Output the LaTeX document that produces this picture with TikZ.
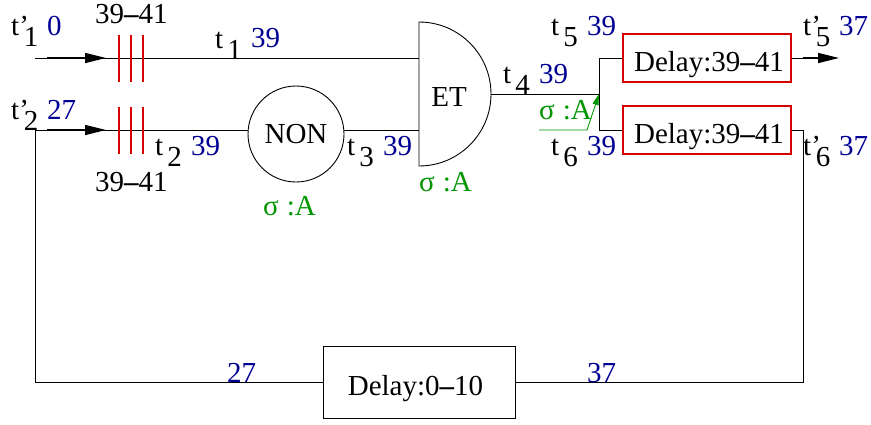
\documentclass[tikz,border=0pt]{standalone}
\usepackage{fontspec}
\setmainfont{Liberation Serif}
\usetikzlibrary{arrows.meta}
\definecolor{nblue}{RGB}{0,0,150}
\definecolor{ngreen}{RGB}{0,150,0}
\definecolor{nred}{RGB}{215,0,0}
\newcommand{\tsub}[2]{#1\raisebox{-11pt}{#2}}
\newcommand{\tnsub}[1]{\tsub{t\hspace{4pt}}{#1}}
\newcommand{\tpsub}[1]{\tsub{t'\hspace{-5pt}}{#1}}
\newcommand{\bdash}{{\bfseries --}}
\newcommand{\lowtext}[1]{\raisebox{-7pt}[19pt][6pt]{#1}}
\tikzset{
  x=1pt,y=-1pt,
  lab/.style={inner sep=0pt,anchor=base west,font=\fontsize{29}{29}\selectfont},
  tlab/.style={lab,text=black},
  val/.style={lab,text=nblue},
  sig/.style={lab,text=ngreen},
  wire/.style={line width=0.9pt,draw=black},
  bar/.style={line width=2pt,draw=nred},
  delaybox/.style={draw=nred,line width=2pt,minimum width=168pt,minimum height=48pt,inner sep=0pt,font=\fontsize{29}{29}\selectfont},
  plainbox/.style={draw=black,line width=0.9pt,minimum width=192pt,minimum height=72pt,inner sep=0pt,font=\fontsize{29}{29}\selectfont},
  arr/.style={line width=1.3pt,-{Triangle[length=21pt,width=10pt]}},
}
\begin{document}
\begin{tikzpicture}
\useasboundingbox (0,0) rectangle (871,424);
\node[circle,draw=black,line width=0.9pt,minimum size=96pt,inner sep=0pt,font=\fontsize{29}{29}\selectfont] (non) at (296,134) {NON};
\node[delaybox] (d1) at (707,58) {\hspace{4pt}\lowtext{Delay:39\bdash 41}};
\node[delaybox] (d2) at (707,130) {\hspace{4pt}\lowtext{Delay:39\bdash 41}};
\node[plainbox] (d3) at (419,382) {\hspace{-7pt}\lowtext{Delay:0\bdash 10}};
\node[inner sep=0pt,font=\fontsize{29}{29}\selectfont] (et) at (449,97) {ET};
\coordinate (etN) at (419,22);
\coordinate (etS) at (419,166);
\coordinate (etA) at (419,58);
\coordinate (etB) at (419,130);
\coordinate (etO) at (491,94);
\coordinate (in1) at (35,58);
\coordinate (in2) at (35,130);
\coordinate (st1) at (47,58);
\coordinate (st2) at (47,130);
\coordinate (st3) at (803,58);
\coordinate (head1) at (106,58);
\coordinate (head2) at (106,130);
\coordinate (split) at (599,94);
\coordinate (splitA) at (599,58);
\coordinate (splitB) at (599,130);
\coordinate (out) at (839,58);
\coordinate (cL) at (35,382);
\coordinate (cR) at (803,382);
\coordinate (cT) at (803,130);
\coordinate (gS) at (539,130);
\coordinate (gM) at (587,130);
% ET gate
\draw[wire] (etN) arc[start angle=-90,end angle=90,x radius=72pt,y radius=-72pt] -- cycle;
% wires
\draw[wire] (in1) -- (etA);
\draw[arr] (st1) -- (head1);
\draw[wire] (in2) -- (in2 -| non.west);
\draw[arr] (st2) -- (head2);
\draw[wire] (etB -| non.east) -- (etB);
\draw[wire] (etO) -- (split);
\draw[wire] (splitB) -- (splitA) -- (d1.west);
\draw[wire] (splitB) -- (d2.west);
\draw[wire] (d1.east) -- (st3);
\draw[arr] (st3) -- (out);
\draw[wire] (d2.east) -- (cT) -- (cR) -- (d3.east);
\draw[wire] (d3.west) -- (cL) -- (in2);
% green
\draw[draw=ngreen,line width=0.9pt,-{Triangle[length=11pt,width=6pt]}] (gS) -- (gM) -- (split);
% red bars
\foreach \xx in {119,131,143}{
  \draw[bar] (\xx,35) -- (\xx,82);
  \draw[bar] (\xx,107) -- (\xx,154);
}
% labels
\node[tlab] (a1) at (11,35) {\tpsub{1}};
\node[val] (b1) at (47,35) {0};
\node[tlab] (a2) at (11,119) {\tpsub{2}};
\node[val] (b2) at (47,119) {27};
\node[tlab] (r1) at (95,23) {39\bdash 41};
\node[tlab] (r2) at (95,191) {39\bdash 41};
\node[tlab] (t1) at (215,48) {\tnsub{1}};
\node[val] (v1) at (251,47) {39};
\node[tlab] (t2) at (155,155) {\tnsub{2}};
\node[val] (v2) at (191,155) {39};
\node[tlab] (t3) at (347,155) {\tnsub{3}};
\node[val] (v3) at (383,155) {39};
\node[tlab] (t4) at (503,83) {\tnsub{4}};
\node[val] (v4) at (539,83) {39};
\node[tlab] (t5) at (551,35) {\tnsub{5}};
\node[val] (v5) at (587,35) {39};
\node[tlab] (t6) at (551,155) {\tnsub{6}};
\node[val] (v6) at (587,155) {39};
\node[tlab] (t7) at (803,35) {\tpsub{5}};
\node[val] (v7) at (839,35) {37};
\node[tlab] (t8) at (803,155) {\tpsub{6}};
\node[val] (v8) at (839,155) {37};
\node[val] (v9) at (227,382) {27};
\node[val] (v10) at (587,382) {37};
\node[sig] (s1) at (263,215) {σ\hspace{8pt}:A};
\node[sig] (s2) at (419,191) {σ\hspace{8pt}:A};
\node[sig] (s3) at (539,119) {σ\hspace{8pt}:A};
\end{tikzpicture}
\end{document}
